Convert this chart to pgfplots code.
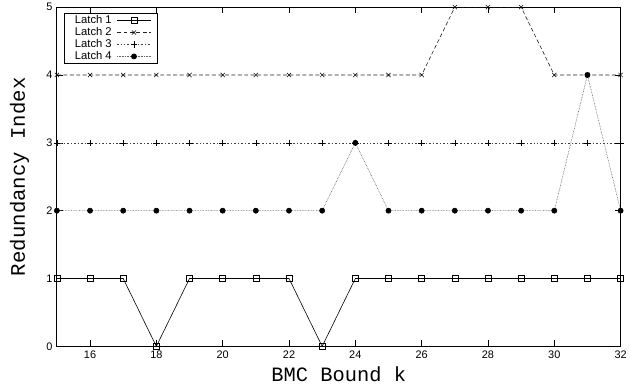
\documentclass[border=0pt]{standalone}
\usepackage{pgfplots}
\pgfplotsset{compat=1.18}
\usepackage{fontspec}
\setmainfont{Liberation Sans}
\newfontfamily\cour{Liberation Mono}
\begin{document}
\begin{tikzpicture}
\begin{axis}[
  name=ax,
  scale only axis,
  width=565bp, height=340bp,
  xmin=15, xmax=32, ymin=0, ymax=5,
  xtick={16,18,...,32}, ytick={0,1,2,3,4,5},
  tick align=inside,
  major tick length=6bp,
  tick style={line width=0.6pt, black},
  /pgf/number format/assume math mode=true,
  tick label style={font=\fontsize{11}{12}\selectfont},
  xticklabel style={yshift=-1bp},
  yticklabel style={xshift=-1bp},
  xlabel={\cour\fontsize{20.5}{21}\selectfont BMC Bound k},
  ylabel={\cour\fontsize{20.8}{21}\selectfont Redundancy Index},
  xlabel style={at={(axis description cs:0.5,0)}, anchor=base, yshift=-35bp, inner sep=0pt},
  ylabel style={at={(axis description cs:-0.0566,0.5)}, anchor=base, inner sep=0pt},
  axis line style={line width=0.8pt},
  legend style={at={(0.012,0.982)}, anchor=north west, font=\fontsize{11.3}{12}\selectfont,
    draw=black, line width=0.6pt, inner xsep=6bp, inner ysep=1bp, row sep=0pt,
    nodes={inner xsep=5bp, inner ysep=0pt, text height=8.8bp, text depth=3.2bp},
    legend cell align=right},
  legend plot pos=right,
  legend image code/.code={\draw[mark repeat=2,mark phase=2,#1] plot coordinates {(0bp,0bp)(17bp,0bp)(34bp,0bp)};},
]
\addplot[black, line width=0.6pt, mark=square, mark size=3pt, mark options={solid, line width=0.5pt}] coordinates {
(15,1)(16,1)(17,1)(18,0)(19,1)(20,1)(21,1)(22,1)(23,0)(24,1)(25,1)(26,1)(27,1)(28,1)(29,1)(30,1)(31,1)(32,1)};
\addlegendentry{Latch 1}
\addplot[black!85, line width=0.6pt, dash pattern=on 4pt off 2.5pt, mark=x, mark size=3pt, mark options={solid, black, line width=0.5pt}] coordinates {
(15,4)(16,4)(17,4)(18,4)(19,4)(20,4)(21,4)(22,4)(23,4)(24,4)(25,4)(26,4)(27,5)(28,5)(29,5)(30,4)(31,4)(32,4)};
\addlegendentry{Latch 2}
\addplot[black!75, line width=0.6pt, dash pattern=on 1.5pt off 2pt, mark=+, mark size=3.2pt, mark options={solid, black, line width=0.5pt}] coordinates {
(15,3)(16,3)(17,3)(18,3)(19,3)(20,3)(21,3)(22,3)(23,3)(24,3)(25,3)(26,3)(27,3)(28,3)(29,3)(30,3)(31,3)(32,3)};
\addlegendentry{Latch 3}
\addplot[black!60, line width=0.6pt, dash pattern=on 0.7pt off 0.9pt, mark=*, mark size=2.6pt, mark options={solid, black, fill=black}] coordinates {
(15,2)(16,2)(17,2)(18,2)(19,2)(20,2)(21,2)(22,2)(23,2)(24,3)(25,2)(26,2)(27,2)(28,2)(29,2)(30,2)(31,4)(32,2)};
\addlegendentry{Latch 4}
\end{axis}
\path (ax.south west) ++(-57bp,-40bp) rectangle ([shift={(8bp,7bp)}]ax.north east);
\end{tikzpicture}
\end{document}
